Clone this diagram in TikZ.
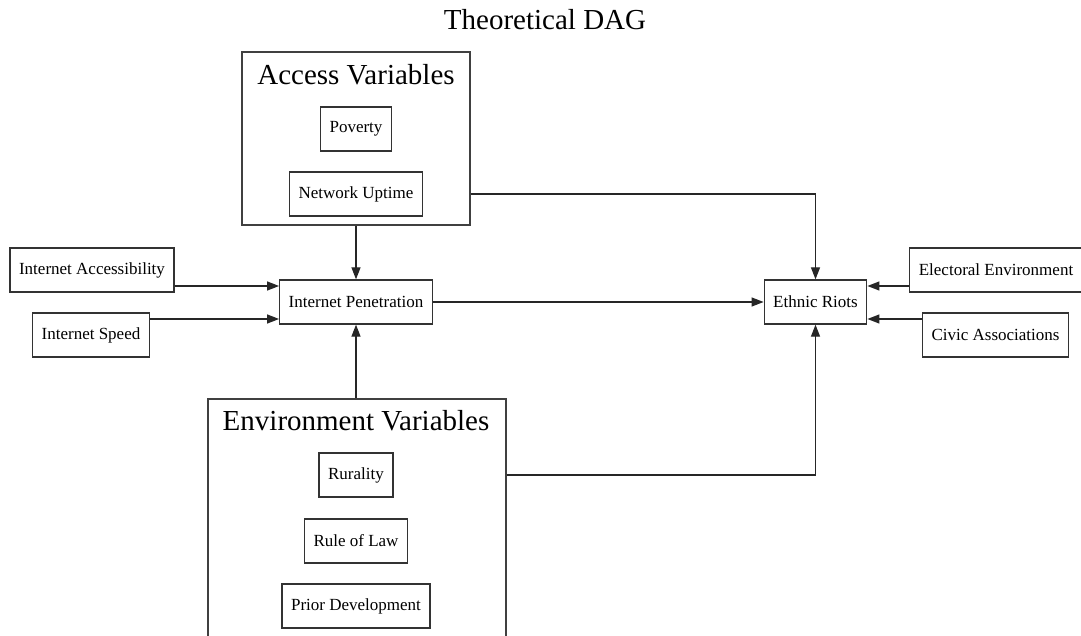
\documentclass[tikz,border=0pt]{standalone}
\usepackage{fontspec}
\setmainfont{Liberation Serif}
\usetikzlibrary{arrows.meta,calc}

\tikzset{
	var/.style={draw=black!80, line width=1.3pt, inner xsep=9pt, minimum height=44pt, font=\fontsize{17}{20}\selectfont},
	cluster/.style={draw=black!75, line width=1.4pt},
	clabel/.style={font=\fontsize{29}{34}\selectfont},
	arr/.style={draw=black!85, line width=1.3pt, -{Triangle[length=12pt,width=9pt]}}
}

\begin{document}
\begin{tikzpicture}[x=1pt,y=-1pt]
				\clip (0,0) rectangle (1081,636);
				% Title
				\node[clabel] (title) at (545,20) {Theoretical DAG};
				
				% Clusters of variables
				\node[cluster, minimum width=228pt, minimum height=173pt] (access) at (356,138.5) {};
				\node[clabel] (accesslab) at (356,75) {Access Variables};
				\node[var] (pov) at (356,129) {Poverty};
				\node[var] (nu) at (356,194) {Network Uptime};
				
				\node[cluster, minimum width=298pt, minimum height=260pt] (env) at (357,529) {};
				\node[clabel] (envlab) at (356,421) {Environment Variables};
				\node[var] (rur) at (356,475) {Rurality};
				\node[var] (rol) at (356,541) {Rule of Law};
				\node[var] (pd) at (356,606) {Prior Development};
				
				% Main nodes
				\node[var] (ia) at (92,270) {Internet Accessibility};
				\node[var] (is) at (91,335) {Internet Speed};
				\node[var] (ip) at (356,302) {Internet Penetration};
				\node[var] (er) at (815.5,302) {Ethnic Riots};
				\node[var] (ee) at (996,270) {Electoral Environment};
				\node[var] (ca) at (995.5,335) {Civic Associations};
				
				% Entry points on the sides
				\coordinate (ip-in1) at ($(ip.west)+(0,-16)$);
				\coordinate (ip-in2) at ($(ip.west)+(0,17)$);
				\coordinate (er-in1) at ($(er.east)+(0,-16)$);
				\coordinate (er-in2) at ($(er.east)+(0,17)$);
				
				% Edges
				\draw[arr] (access.south) -- (ip.north);
				\draw[arr] (ip.south |- env.north) -- (ip.south);
				\draw[arr] (ia.east |- ip-in1) -- (ip-in1);
				\draw[arr] (is.east |- ip-in2) -- (ip-in2);
				\draw[arr] (ip.east) -- (er.west);
				\draw[arr] (access.east |- nu) -| (er.north);
				\draw[arr] (env.east |- rur) -| (er.south);
				\draw[arr] (ee.west |- er-in1) -- (er-in1);
				\draw[arr] (ca.west |- er-in2) -- (er-in2);
			\end{tikzpicture}
\end{document}
